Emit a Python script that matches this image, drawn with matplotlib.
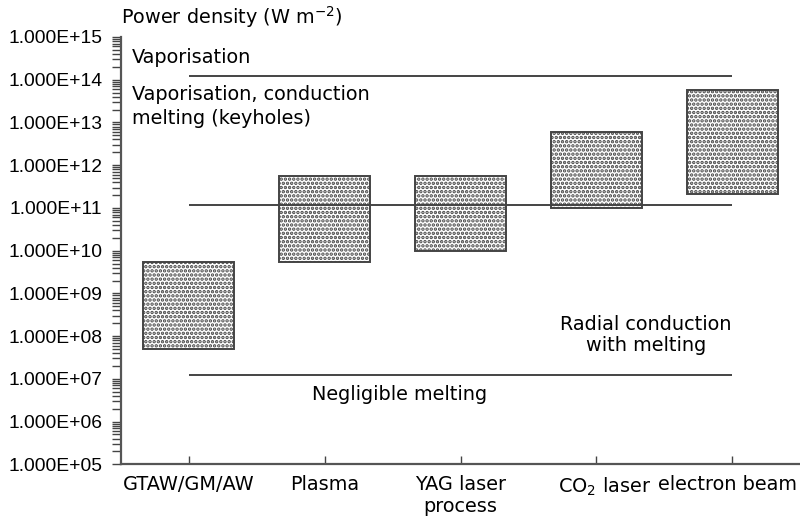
import matplotlib
matplotlib.use("Agg")
import matplotlib.pyplot as plt
import matplotlib.transforms as mtransforms
from matplotlib.ticker import LogLocator, FuncFormatter, NullFormatter

plt.rcParams['font.family'] = ['DejaVu Sans']
plt.rcParams['mathtext.default'] = 'regular'
plt.rcParams['hatch.linewidth'] = 1.7
plt.rcParams['hatch.color'] = 'black'

# Welding processes and their power-density ranges (W m^-2)
processes = ['GTAW/GM/AW', 'Plasma', 'YAG laser\nprocess', 'CO$_2$ laser', 'electron beam']
range_low = [5e7, 5.5e9, 1.0e10, 1.0e11, 2.1e11]
range_high = [5.5e9, 5.7e11, 5.7e11, 6.0e12, 5.75e13]

# Regime boundaries
boundary_levels = [1.2e14, 1.2e11, 1.2e7]

FS = 13.9

fig = plt.figure(figsize=(8.0, 5.21), dpi=100)
ax = fig.add_axes([0.15125, 0.1088, 0.84875, 0.8202])

xpos = list(range(len(processes)))
heights = [h - l for h, l in zip(range_high, range_low)]
ax.bar(xpos, heights, bottom=range_low, width=0.67, facecolor='white',
       edgecolor='#444444', linewidth=1.4, hatch='....', zorder=2)

for lvl in boundary_levels:
    ax.hlines(lvl, xpos[0], xpos[-1], color='#444444', linewidth=1.4, zorder=3)

ax.set_yscale('log')
ax.set_ylim(1e5, 1e15)
ax.set_xlim(-0.5, 4.5)

ax.yaxis.set_major_locator(LogLocator(base=10, numticks=20))
ax.yaxis.set_minor_locator(LogLocator(base=10, subs=[2, 3, 4, 5, 6, 7, 8, 9], numticks=40))
ax.yaxis.set_major_formatter(FuncFormatter(lambda v, p: f"{v:.3E}"))
ax.yaxis.set_minor_formatter(NullFormatter())
ax.tick_params(axis='y', which='both', direction='out', length=6.5, width=1.0,
               color='#444444', pad=7)
for lab in ax.get_yticklabels():
    lab.set_fontfamily('Liberation Sans')
    lab.set_fontsize(FS)

ax.set_xticks(xpos)
ax.set_xticklabels(processes)
ax.tick_params(axis='x', direction='in', length=6, width=1.0, color='#444444',
               labelsize=FS, pad=8)

# nudge the two right-hand category labels so they sit side by side
label_shift = [0, 0, 0, 8, -5]
for lab, dx in zip(ax.get_xticklabels(), label_shift):
    if dx:
        lab.set_transform(lab.get_transform() +
                          mtransforms.ScaledTranslation(dx / 100, 0, fig.dpi_scale_trans))

for side in ('top', 'right'):
    ax.spines[side].set_visible(False)
for side in ('left', 'bottom'):
    ax.spines[side].set_color('#555555')
    ax.spines[side].set_linewidth(1.6)

txt = dict(fontsize=FS, color='black')
ax.text(0.0, 1.047, 'Power density (W m$^{-2}$)', transform=ax.transAxes,
        ha='left', va='center', **txt)
ax.text(-0.42, 3.4e14, 'Vaporisation', ha='left', va='center', **txt)
ax.text(-0.42, 4.6e13, 'Vaporisation, conduction', ha='left', va='center', **txt)
ax.text(-0.42, 1.27e13, 'melting (keyholes)', ha='left', va='center', **txt)
ax.text(1.55, 4.4e6, 'Negligible melting', ha='center', va='center', **txt)
ax.text(3.365, 1.06e8, 'Radial conduction\nwith melting', ha='center', va='center',
        linespacing=1.15, **txt)

fig.savefig('out.png', dpi=100)
